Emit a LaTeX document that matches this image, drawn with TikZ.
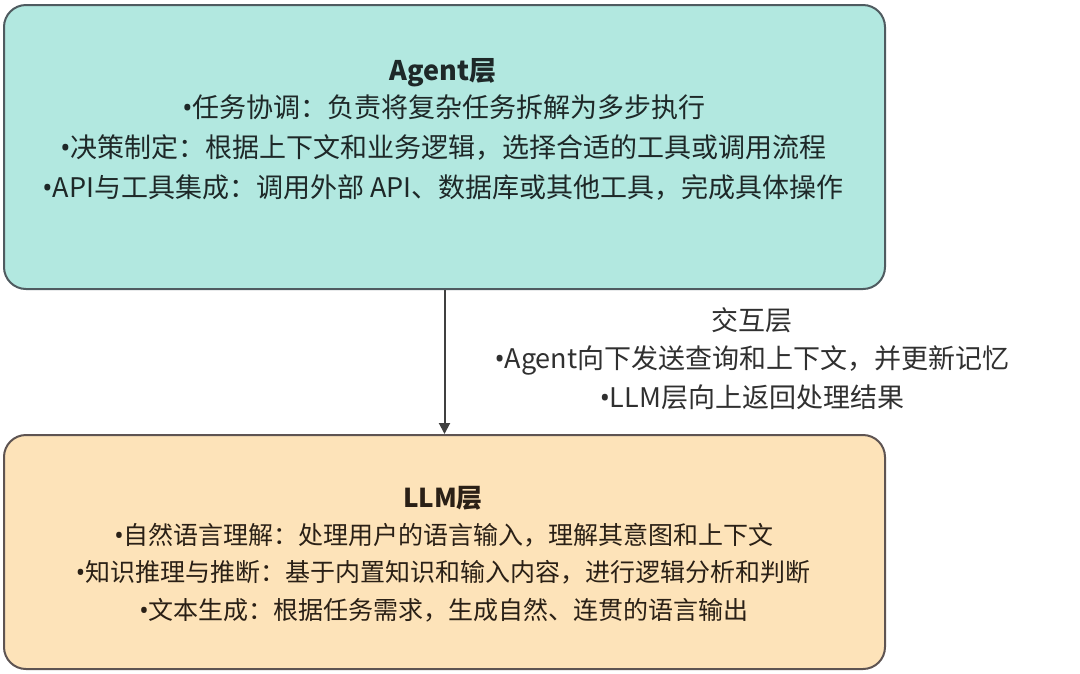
\documentclass[tikz,border=0pt]{standalone}
\usepackage{fontspec}
\setmainfont{Noto Sans CJK SC}
\newfontfamily\bulletfont{Noto Sans}
\newcommand{\bul}{{\bulletfont •}}
\usetikzlibrary{arrows.meta}
\definecolor{agentfill}{HTML}{B2E8E0}
\definecolor{agentline}{HTML}{4F5B60}
\definecolor{llmfill}{HTML}{FDE3B9}
\definecolor{llmline}{HTML}{5E5452}
\definecolor{txtA}{HTML}{1E2828}
\definecolor{txtB}{HTML}{2A2016}
\definecolor{txtC}{HTML}{303030}
\definecolor{arrowgray}{HTML}{404040}
\begin{document}
\begin{tikzpicture}[x=1pt,y=-1pt,
  layer/.style={rounded corners=22pt, line width=2pt, minimum width=881pt, inner sep=0pt, anchor=north west},
  lineA/.style={anchor=base, inner sep=0pt, text=txtA, font=\fontsize{27}{32}\selectfont},
  lineB/.style={anchor=base, inner sep=0pt, text=txtB, font=\fontsize{25}{30}\selectfont},
  lineC/.style={anchor=base, inner sep=0pt, text=txtC, font=\fontsize{27}{32}\selectfont},
  conn/.style={-{Triangle[length=11pt,width=11pt]}, line width=2pt, draw=arrowgray}]
\useasboundingbox (0,0) rectangle (1080,673);
\fill[white] (0,0) rectangle (1080,673);
\node[layer, draw=agentline, fill=agentfill, minimum height=284pt] (agent) at (3,4) {};
\node[layer, draw=llmline, fill=llmfill, minimum height=234pt] (llm) at (3,434) {};
% Agent layer text
\node[lineA, font=\fontsize{27}{32}\selectfont\bfseries] (a0) at (443,80) {Agent层};
\node[lineA] (a1) at (444,117) {\bul 任务协调：负责将复杂任务拆解为多步执行};
\node[lineA] (a2) at (443.5,157) {\bul 决策制定：根据上下文和业务逻辑，选择合适的工具或调用流程};
\node[lineA] (a3) at (443,197) {\bul API与工具集成：调用外部 API、数据库或其他工具，完成具体操作};
% interaction layer text
\node[lineC] (c0) at (752,330) {交互层};
\node[lineC] (c1) at (752,368) {\bul Agent向下发送查询和上下文，并更新记忆};
\node[lineC] (c2) at (752,407) {\bul LLM层向上返回处理结果};
% LLM layer text
\node[lineB, font=\fontsize{26}{30}\selectfont\bfseries] (b0) at (443,507) {LLM层};
\node[lineB] (b1) at (444,544.5) {\bul 自然语言理解：处理用户的语言输入，理解其意图和上下文};
\node[lineB] (b2) at (443,581.5) {\bul 知识推理与推断：基于内置知识和输入内容，进行逻辑分析和判断};
\node[lineB] (b3) at (444,619.5) {\bul 文本生成：根据任务需求，生成自然、连贯的语言输出};
% connector
\draw[conn] (agent.south) -- (llm.north);
\end{tikzpicture}
\end{document}
